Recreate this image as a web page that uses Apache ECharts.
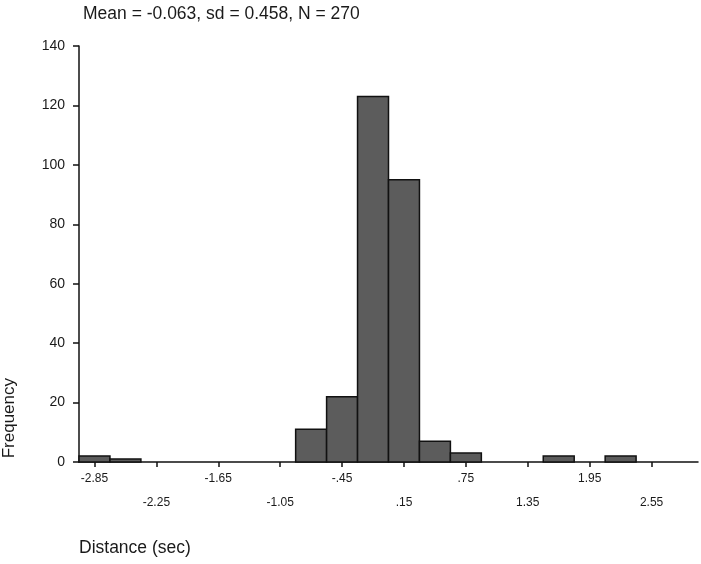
<!DOCTYPE html>
<html>
<head>
<meta charset="utf-8">
<script src="https://cdn.jsdelivr.net/npm/echarts@6/dist/echarts.min.js"></script>
<style>html,body{margin:0;padding:0;background:#fff}#c{width:701px;height:564px}</style>
</head>
<body>
<div id="c"></div>
<script>
// Data
var binCenters = [-2.85, -2.55, -0.75, -0.45, -0.15, 0.15, 0.45, 0.75, 1.65, 2.25];
var counts     = [2, 1, 11, 22, 123, 95, 7, 3, 2, 2];
var binWidth = 0.3;
var tickValues = [-2.85, -2.25, -1.65, -1.05, -0.45, 0.15, 0.75, 1.35, 1.95, 2.55];
var tickLabelsRow1 = {'-2.85':'-2.85','-1.65':'-1.65','-0.45':'-.45','0.75':'.75','1.95':'1.95'};
var tickLabelsRow2 = {'-2.25':'-2.25','-1.05':'-1.05','0.15':'.15','1.35':'1.35','2.55':'2.55'};
var row1Values = [-2.85, -1.65, -0.45, 0.75, 1.95];
var row2Values = [-2.25, -1.05, 0.15, 1.35, 2.55];
var titleText = 'Mean = -0.063, sd = 0.458, N = 270';
var yName = 'Frequency';
var xName = 'Distance (sec)';

var FONT = 'Liberation Sans, Arial, Helvetica, sans-serif';
var chart = echarts.init(document.getElementById('c'), null, {renderer: 'canvas'});
var data = binCenters.map(function (c, i) { return [c, counts[i]]; });

function fmt(map) {
  return function (v) {
    var k = String(Math.round(v * 100) / 100);
    return map[k] !== undefined ? map[k] : '';
  };
}

chart.setOption({
  animation: false,
  backgroundColor: '#fff',
  title: {
    text: titleText,
    left: 78, top: 0,
    textStyle: {fontFamily: FONT, fontSize: 17.5, fontWeight: 'normal', color: '#1a1a1a'}
  },
  grid: {left: 79, right: 3, top: 46, bottom: 102, containLabel: false},
  xAxis: [{
    type: 'value', min: -3.0, max: 3.0, position: 'bottom',
    axisLine: {show: true, onZero: false, lineStyle: {color: '#111', width: 1.5}},
    axisTick: {show: true, customValues: tickValues, length: 5, lineStyle: {color: '#111', width: 1.5}},
    axisLabel: {show: true, customValues: row1Values, formatter: fmt(tickLabelsRow1), margin: 11,
      fontFamily: FONT, fontSize: 12, color: '#1a1a1a'},
    splitLine: {show: false}
  }, {
    type: 'value', min: -3.0, max: 3.0, position: 'bottom',
    axisLine: {show: false, onZero: false}, axisTick: {show: false},
    axisLabel: {show: true, customValues: row2Values, formatter: fmt(tickLabelsRow2), margin: 35,
      fontFamily: FONT, fontSize: 12, color: '#1a1a1a'},
    splitLine: {show: false}
  }],
  yAxis: {
    type: 'value', min: 0, max: 140, interval: 20,
    axisLine: {show: true, onZero: false, lineStyle: {color: '#111', width: 1.5}},
    axisTick: {show: true, length: 6, lineStyle: {color: '#111', width: 1.5}},
    axisLabel: {margin: 14, fontFamily: FONT, fontSize: 14, color: '#1a1a1a'},
    splitLine: {show: false}
  },
  graphic: [{
    type: 'text', left: 1, top: 378, rotation: Math.PI / 2,
    style: {text: yName, font: '17px ' + FONT, fill: '#1a1a1a'}
  }, {
    type: 'text', left: 79, top: 539,
    style: {text: xName, font: '17.5px ' + FONT, fill: '#1a1a1a'}
  }],
  series: [{
    type: 'custom',
    xAxisIndex: 0, yAxisIndex: 0,
    data: data,
    renderItem: function (params, api) {
      var c = api.value(0), v = api.value(1);
      var p0 = api.coord([c - binWidth / 2, v]);
      var p1 = api.coord([c + binWidth / 2, 0]);
      return {
        type: 'rect',
        shape: {x: p0[0], y: p0[1], width: p1[0] - p0[0], height: p1[1] - p0[1]},
        style: {fill: '#5c5c5c', stroke: '#111', lineWidth: 1.5}
      };
    }
  }]
});
</script>
</body>
</html>
